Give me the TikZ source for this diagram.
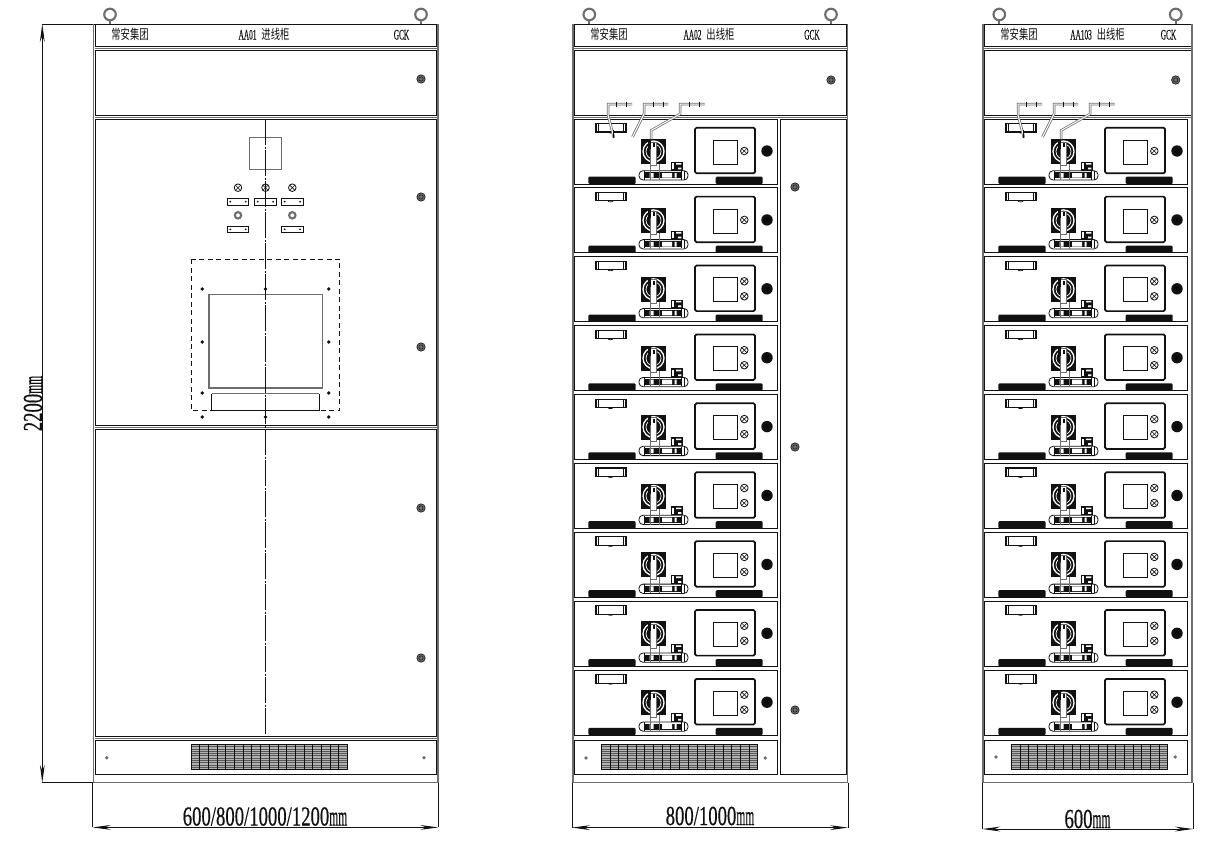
\documentclass[tikz,border=0pt]{standalone}
\usepackage{graphicx}
\usepackage{fontspec}
\newfontfamily\cjkf{Noto Sans CJK SC}
\newfontfamily\serf[FakeBold=0.5]{Liberation Serif}
\newfontfamily\serh[FakeBold=0.3]{Liberation Serif}
\usetikzlibrary{arrows.meta}
\definecolor{fgray}{HTML}{6e6e6e}
\definecolor{ink}{HTML}{111111}
\newcommand{\latx}[1]{\scalebox{.5}[1]{\fontsize{14.6}{15}\selectfont\serh #1}}
\newcommand{\cjx}[1]{\scalebox{.69}[1]{\fontsize{13.5}{14}\selectfont\cjkf #1}}
\newcommand{\dimx}[2]{\scalebox{.68}[1]{\fontsize{#2}{#2}\selectfont\serf #1}\scalebox{.42}[1]{\fontsize{#2}{#2}\selectfont\serf mm}}
\tikzset{
  thinl/.style={draw=ink,line width=1pt},
  wall/.style={draw=fgray,line width=1.9pt},
  pan/.style={draw=ink,line width=1pt,fill=white},
  txt/.style={inner sep=0pt,text=ink},
  dimline/.style={draw=ink,line width=.9pt},
  dimarrow/.style={draw=ink,line width=.9pt,{Stealth[length=18pt,width=4.8pt]}-{Stealth[length=18pt,width=4.8pt]}},
  ringh/.style={draw=fgray,line width=2.1pt,fill=white},
  lampx/.style={draw=ink,line width=.8pt,fill=white},
  wire/.style={draw=fgray,line width=.75pt,double=white,double distance=1pt,line join=miter},
  cline/.style={draw=ink,line width=.8pt,dash pattern=on 26pt off 1.5pt on 2pt off 1.5pt},
  dashr/.style={draw=ink,line width=.9pt,dash pattern=on 5pt off 3.5pt},
}
\newcommand{\lampmark}[2]{%
  \draw[lampx] (#1,#2) circle (3.8pt);
  \draw[ink,line width=.6pt] (#1-2.6,#2-2.6) -- (#1+2.6,#2+2.6) (#1-2.6,#2+2.6) -- (#1+2.6,#2-2.6);
}
\newcommand{\knob}[2]{%
  \fill[fgray] (#1,#2) circle (4.2pt);
  \draw[ink,line width=.6pt] (#1,#2) circle (4.2pt);
  \draw[ink,line width=.5pt] (#1,#2) circle (2.2pt);
}
\newcommand{\hookring}[2]{\draw[fgray,line width=2pt] (#1,#2+5) -- (#1,#2+9.5); \draw[ringh] (#1,#2) circle (5.8pt);}
\newcommand{\module}[3]{%
 \begin{scope}[shift={(#1,#2)}]
  \draw[pan] (0,0) rectangle (203.3,65);
  \fill[ink,rounded corners=1.2pt] (14.3,65) -- (14.3,57.7) -- (61.7,57.7) -- (61.7,65) -- cycle;
  \fill[ink,rounded corners=1.2pt] (141.7,65) -- (141.7,57.7) -- (188.7,57.7) -- (188.7,65) -- cycle;
  \draw[draw=ink,line width=1.1pt,fill=white] (22,4.5) rectangle (52,13);
  \draw[ink,line width=.9pt] (24.5,4.5) -- (24.5,13) (49.5,4.5) -- (49.5,13);
  \draw[ink,line width=.7pt] (34,13) arc (180:360:2.5pt and 1pt);
  \draw[draw=ink,line width=.8pt,fill=white,rounded corners=4pt] (65,51.7) rectangle (114,61);
  \fill[ink] (71,53.3) rectangle (106.7,59.3);
  \fill[white] (75.5,54) rectangle (79.7,58.6) (88,54) rectangle (98,58.6) (100.7,54) rectangle (102.5,58.6);
  \draw[ink,line width=.9pt] (70,52) -- (70,60.5) (107.7,52) -- (107.7,60.5) (110.5,52) -- (110.5,60.5);
  \fill[ink] (96.7,42.7) rectangle (108.7,51.7);
  \fill[white] (98,44) rectangle (100.2,50.4);
  \fill[white] (102,44) rectangle (107.4,45.6) (104,48.6) rectangle (107.4,50.4);
  \fill[ink] (67,20) rectangle (92,45);
  \draw[white,line width=1.3pt] (79.5,32.5) circle (10.5pt);
  \draw[white,line width=.7pt] (79.5,32.5) circle (7.5pt);
  \draw[draw=fgray,line width=1pt] (76,45) -- (76,61) (85,45) -- (85,61);
  \draw[draw=fgray,line width=.8pt,fill=white] (76.7,23) rectangle (82.7,46.7);
  \fill[ink] (74,20.5) rectangle (77,30);
  \fill[ink] (78.7,24) rectangle (80.7,28);
  \draw[draw=ink,line width=1.7pt,fill=white,rounded corners=1.5pt] (121,8.7) rectangle (181,54.3);
  \draw[draw=ink,line width=.8pt,fill=white] (139.3,21) rectangle (163.3,45);
  \ifnum#3=1
    \lampmark{170.3}{32}
  \else
    \lampmark{170.3}{24.5}
    \lampmark{170.3}{39.5}
  \fi
  \fill[ink] (193,32) circle (5.7pt);
  \fill[black!45!ink] (193,32) circle (2.5pt);
 \end{scope}
}
\newcommand{\vent}[1]{%
 \begin{scope}[shift={(#1,744.3)}]
  \fill[black!30] (0,0) rectangle (156.5,25);
  \foreach \k in {0,2.3,...,25}{\draw[fgray!80!black,line width=.8pt] (0,\k) -- (156.5,\k);}
  \foreach \k in {0,8.69,...,157}{\draw[ink,line width=.7pt] (\k,0) -- (\k,25);}
  \draw[ink,line width=.7pt] (0,0) rectangle (156.5,25);
 \end{scope}
}
\newcommand{\wires}[1]{%
 \begin{scope}[shift={(#1,0)}]
  \coordinate (w1a) at (632,104); \coordinate (w1b) at (608,104); \coordinate (w1c) at (608,115); \coordinate (w1d) at (614,138);
  \draw[wire] (w1a) -- (w1b) -- (w1c) -- (w1d);
  \coordinate (w2a) at (668,104); \coordinate (w2b) at (644,104); \coordinate (w2c) at (644,114); \coordinate (w2d) at (632.5,137);
  \draw[wire] (w2a) -- (w2b) -- (w2c) -- (w2d);
  \coordinate (w3a) at (704.5,104); \coordinate (w3b) at (680,104); \coordinate (w3c) at (680,114); \coordinate (w3d) at (651,130.5); \coordinate (w3e) at (651,139);
  \draw[wire] (w3a) -- (w3b) -- (w3c) -- (w3d) -- (w3e);
  \draw[ink,line width=.8pt] (616.7,101.5) -- (616.7,106.5) (626.7,101.5) -- (626.7,106.5) (653,101.5) -- (653,106.5) (663,101.5) -- (663,106.5) (689,101.5) -- (689,106.5) (699,101.5) -- (699,106.5);
  \draw[ink,line width=.9pt] (613,130) -- (613,138);
 \end{scope}
}
\begin{document}
\begin{tikzpicture}[x=1pt,y=-1pt]
\useasboundingbox[fill=white] (0,0) rectangle (1214,849);

%%% Cabinet 1
\hookring{110}{14.5}
\hookring{421}{14.5}
\draw[pan] (95,24) rectangle (436.7,46);
\draw[pan] (95,50) rectangle (436.7,115.3);
\draw[pan] (95,119) rectangle (436.7,425.5);
\draw[pan] (95,429) rectangle (436.7,736);
\draw[pan] (95,740) rectangle (436.7,774);
\draw[thinl] (92.7,24) -- (438.3,24);
\draw[wall] (93.5,24) -- (93.5,782.7);
\draw[wall] (437.7,24) -- (437.7,782.7);
\draw[fgray,line width=1.4pt] (92.7,782.7) -- (438.3,782.7);
\draw[fgray,line width=.8pt] (95,48) -- (436.7,48) (95,117) -- (436.7,117) (95,427.3) -- (436.7,427.3) (95,738) -- (436.7,738);
\node[txt,anchor=base] (t1a) at (130,39.5) {\cjx{常安集团}};
\node[txt,anchor=base] (t1b) at (264,39.5) {\latx{AA01}\hspace{5pt}\cjx{进线柜}};
\node[txt,anchor=base] (t1c) at (401.5,39.5) {\latx{GCK}};
\foreach \yy in {79,197,347,508,658}{\knob{421}{\yy}}
\draw[draw=fgray,line width=1.2pt] (249.7,137.3) rectangle (281.3,169.3);
\foreach \xx in {238,265.5,292.3}{\lampmark{\xx}{187.7}}
\foreach \xx/\yy in {227.3/198.3,254.7/198.3,281.7/198.3,227.3/226,281.7/226}{
  \draw[draw=ink,line width=1pt,fill=white] (\xx,\yy) rectangle (\xx+21.4,\yy+6.7);
  \fill[ink] (\xx+3,\yy+3.35) circle (1pt) (\xx+18.4,\yy+3.35) circle (1pt);
}
\foreach \xx in {238,292.3}{\draw[draw=fgray,line width=2.1pt] (\xx,215.3) circle (3.2pt);}
\draw[dashr] (191.7,259.3) rectangle (339.7,410.7);
\draw[draw=fgray,line width=1.4pt] (209,294.3) rectangle (322.3,388);
\draw[draw=fgray,line width=1pt] (211.7,393.7) -- (319.3,393.7);
\draw[thinl] (319.3,393.7) -- (319.3,410.7) -- (211.7,410.7) -- (211.7,393.7);
\foreach \xx/\yy in {202.3/289,265.5/289,328.7/289,202.3/342,328.7/342,202.3/393,328.7/393,202.3/417,265.5/417,328.7/417}{
  \fill[ink] (\xx,\yy) circle (1.9pt);
}
\draw[cline] (265.5,119) -- (265.5,736);
\vent{191}
\foreach \xx in {106.7,424}{\fill[fgray] (\xx,757.7) circle (1.9pt);}

%%% Cabinet 2
\hookring{589.3}{14.5}
\hookring{831}{14.5}
\draw[pan] (574,24) rectangle (846.7,46);
\draw[pan] (574,50) rectangle (846.7,115.3);
\draw[pan] (780.7,119) rectangle (846.7,774);
\draw[thinl] (572,24) -- (848,24);
\draw[wall] (572.9,24) -- (572.9,782.7);
\draw[wall] (847.5,24) -- (847.5,782.7);
\draw[fgray,line width=1.4pt] (572,782.7) -- (848,782.7);
\draw[fgray,line width=.8pt] (574,48) -- (846.7,48) (574,117) -- (846.7,117);
\node[txt,anchor=base] (t2a) at (609,39.5) {\cjx{常安集团}};
\node[txt,anchor=base] (t2b) at (709,39.5) {\latx{AA02}\hspace{5pt}\cjx{出线柜}};
\node[txt,anchor=base] (t2c) at (812,39.5) {\latx{GCK}};
\knob{831}{80}
\foreach \yy in {187,447,710}{\knob{795}{\yy}}
\foreach \i/\lm in {0/1,1/1,2/2,3/2,4/2,5/2,6/2,7/2,8/2}{
  \pgfmathsetmacro{\my}{119+68.9*\i}
  \module{574}{\my}{\lm}
}
\wires{0}
\draw[pan] (574,740) rectangle (777.3,774);
\vent{601.3}
\foreach \xx in {586,765.3}{\fill[fgray] (\xx,758) circle (1.9pt);}

%%% Cabinet 3
\hookring{999.3}{14.5}
\hookring{1175.7}{14.5}
\draw[pan] (984,24) rectangle (1191.5,46);
\draw[pan] (984,50) rectangle (1191.5,115.3);
\draw[thinl] (982.3,24) -- (1193,24);
\draw[wall] (983.1,24) -- (983.1,782.7);
\draw[wall] (1192.2,24) -- (1192.2,782.7);
\draw[fgray,line width=1.4pt] (982.3,782.7) -- (1193,782.7);
\draw[fgray,line width=.8pt] (984,48) -- (1191.5,48) (984,117) -- (1191.5,117);
\node[txt,anchor=base] (t3a) at (1019,39.5) {\cjx{常安集团}};
\node[txt,anchor=base] (t3b) at (1097.5,39.5) {\latx{AA103}\hspace{5pt}\cjx{出线柜}};
\node[txt,anchor=base] (t3c) at (1168.5,39.5) {\latx{GCK}};
\knob{1175.7}{80}
\foreach \i/\lm in {0/1,1/1,2/2,3/2,4/2,5/2,6/2,7/2,8/2}{
  \pgfmathsetmacro{\my}{119+68.9*\i}
  \module{984}{\my}{\lm}
}
\wires{410}
\draw[pan] (984,740) rectangle (1187.7,774);
\vent{1011.3}
\foreach \xx in {996,1175.3}{\fill[fgray] (\xx,757) circle (1.9pt);}

%%% Dimensions
\coordinate (da) at (42.3,24);
\coordinate (db) at (42.3,782.7);
\coordinate (c1tl) at (92.7,24);
\coordinate (c1bl) at (92.7,782.7);
\draw[dimline] (da) -- (c1tl) (db) -- (c1bl);
\draw[dimarrow] (da) -- (db);
\node[txt,rotate=90] (d2200) at (33,403.5) {\dimx{2200}{27.5}};

\coordinate (e1a) at (92.7,827.4);
\coordinate (e1b) at (438.3,827.4);
\coordinate (f1a) at (92.7,782.7);
\coordinate (f1b) at (438.3,782.7);
\draw[dimline] (f1a) -- (e1a) (f1b) -- (e1b);
\draw[dimarrow] (e1a) -- (e1b);
\node[txt,anchor=base] (d1) at (265,825.5) {\dimx{600/800/1000/1200}{27.5}};

\coordinate (e2a) at (572,827.6);
\coordinate (e2b) at (848,827.6);
\coordinate (f2a) at (572,782.7);
\coordinate (f2b) at (848,782.7);
\draw[dimline] (f2a) -- (e2a) (f2b) -- (e2b);
\draw[dimarrow] (e2a) -- (e2b);
\node[txt,anchor=base] (d2) at (710,825) {\dimx{800/1000}{27.5}};

\coordinate (e3a) at (982.3,829);
\coordinate (e3b) at (1193,829);
\coordinate (f3a) at (982.3,782.7);
\coordinate (f3b) at (1193,782.7);
\draw[dimline] (f3a) -- (e3a) (f3b) -- (e3b);
\draw[dimarrow] (e3a) -- (e3b);
\node[txt,anchor=base] (d3) at (1087.5,828) {\dimx{600}{27.5}};
\end{tikzpicture}
\end{document}
